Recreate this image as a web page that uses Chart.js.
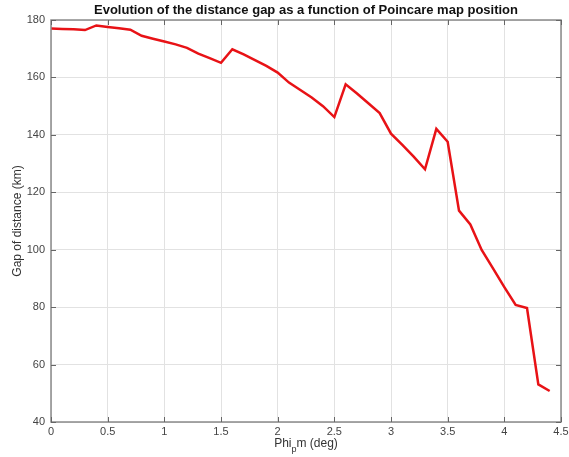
<!DOCTYPE html>
<html>
<head>
<meta charset="utf-8">
<script src="https://cdn.jsdelivr.net/npm/chart.js@4/dist/chart.umd.min.js"></script>
<style>
  html, body { margin: 0; padding: 0; background: #fff; }
  #wrap { width: 569px; height: 457px; position: relative; }
</style>
</head>
<body>
<div id="wrap"><canvas id="c" width="569" height="457"></canvas></div>
<script>
// Poincare map position (deg) and the corresponding distance gap (km)
const phiPm = [0, 0.1, 0.2, 0.3, 0.4, 0.5, 0.6, 0.7, 0.8, 0.9, 1.0, 1.1, 1.2, 1.3, 1.4, 1.5,
               1.6, 1.7, 1.8, 1.9, 2.0, 2.1, 2.2, 2.3, 2.4, 2.5, 2.6, 2.7, 2.8, 2.9, 3.0,
               3.1, 3.2, 3.3, 3.4, 3.5, 3.6, 3.7, 3.8, 3.9, 4.0, 4.1, 4.2, 4.3, 4.4];
const gapKm = [177, 176.9, 176.8, 176.5, 178.1, 177.6, 177.1, 176.6, 174.5, 173.5, 172.5, 171.5, 170.3, 168.3, 166.7, 165.1,
               169.8, 168.0, 166.0, 164.0, 161.7, 158.2, 155.6, 153.0, 150.0, 146.2, 157.6, 154.4, 151.0, 147.6, 140.4,
               136.5, 132.4, 128.0, 142.1, 137.6, 113.6, 108.8, 99.9, 93.5, 87.0, 80.8, 79.7, 53.1, 50.8];

const xTicks = [0, 0.5, 1, 1.5, 2, 2.5, 3, 3.5, 4, 4.5];
const yTicks = [40, 60, 80, 100, 120, 140, 160, 180];

const titleText = 'Evolution of the distance gap as a function of Poincare map position';
const yTitle = 'Gap of distance (km)';

const FONT = '"Liberation Sans", Arial, Helvetica, sans-serif';

// Frame, inward ticks, title and axis labels drawn around the chart area
const framePlugin = {
  id: 'frame',
  afterDraw(chart) {
    const { ctx, chartArea: a, scales } = chart;
    ctx.save();
    ctx.strokeStyle = '#8a8a8a';
    ctx.lineWidth = 1.5;
    ctx.strokeRect(a.left, a.top, a.right - a.left, a.bottom - a.top);
    const tl = 5;
    ctx.lineWidth = 1;
    ctx.strokeStyle = '#666';
    ctx.beginPath();
    xTicks.forEach(v => {
      const x = Math.round(scales.x.getPixelForValue(v)) + 0.5;
      ctx.moveTo(x, a.bottom); ctx.lineTo(x, a.bottom - tl);
      ctx.moveTo(x, a.top); ctx.lineTo(x, a.top + tl);
    });
    yTicks.forEach(v => {
      const y = Math.round(scales.y.getPixelForValue(v)) + 0.5;
      ctx.moveTo(a.left, y); ctx.lineTo(a.left + tl, y);
      ctx.moveTo(a.right, y); ctx.lineTo(a.right - tl, y);
    });
    ctx.stroke();

    // title
    ctx.fillStyle = '#111';
    ctx.font = 'bold 13px ' + FONT;
    ctx.textAlign = 'center';
    ctx.textBaseline = 'alphabetic';
    ctx.fillText(titleText, (a.left + a.right) / 2, 14);

    // y axis title
    ctx.fillStyle = '#333';
    ctx.font = '12px ' + FONT;
    ctx.save();
    ctx.translate(21, (a.top + a.bottom) / 2);
    ctx.rotate(-Math.PI / 2);
    ctx.textAlign = 'center';
    ctx.fillText(yTitle, 0, 0);
    ctx.restore();

    // x axis title: Phi with subscript p, then m (deg)
    const parts = [['Phi', 12, 0], ['p', 9, 5], ['m (deg)', 12, 0]];
    let total = 0;
    parts.forEach(p => { ctx.font = p[1] + 'px ' + FONT; total += ctx.measureText(p[0]).width; });
    let x = (a.left + a.right) / 2 - total / 2;
    const base = 447;
    ctx.textAlign = 'left';
    parts.forEach(p => {
      ctx.font = p[1] + 'px ' + FONT;
      ctx.fillText(p[0], x, base + p[2]);
      x += ctx.measureText(p[0]).width;
    });
    ctx.restore();
  }
};

new Chart(document.getElementById('c'), {
  type: 'line',
  data: {
    datasets: [{
      data: phiPm.map((p, i) => ({ x: p, y: gapKm[i] })),
      borderColor: 'rgb(232,18,22)',
      borderWidth: 2.5,
      pointRadius: 0,
      tension: 0,
      fill: false
    }]
  },
  options: {
    responsive: false,
    animation: false,
    layout: { padding: { top: 20, right: 8, left: 0, bottom: 0 } },
    plugins: { legend: { display: false }, tooltip: { enabled: false } },
    scales: {
      x: {
        type: 'linear',
        min: 0, max: 4.5,
        afterBuildTicks: s => { s.ticks = xTicks.map(v => ({ value: v })); },
        afterFit: s => { s.height = 35; s.paddingRight = 0; s.paddingLeft = 0; },
        grid: { color: '#e2e2e2', drawTicks: false },
        border: { display: false },
        ticks: {
          color: '#444', font: { family: FONT, size: 11 }, padding: 3,
          maxRotation: 0, autoSkip: false,
          callback: v => String(v)
        }
      },
      y: {
        type: 'linear',
        min: 40, max: 180,
        afterBuildTicks: s => { s.ticks = yTicks.map(v => ({ value: v })); },
        afterFit: s => { s.width = 51; s.paddingTop = 0; s.paddingBottom = 0; },
        grid: { color: '#e2e2e2', drawTicks: false },
        border: { display: false },
        ticks: {
          color: '#444', font: { family: FONT, size: 11 }, padding: 6,
          autoSkip: false,
          callback: v => String(v)
        }
      }
    }
  },
  plugins: [framePlugin]
});
</script>
</body>
</html>
